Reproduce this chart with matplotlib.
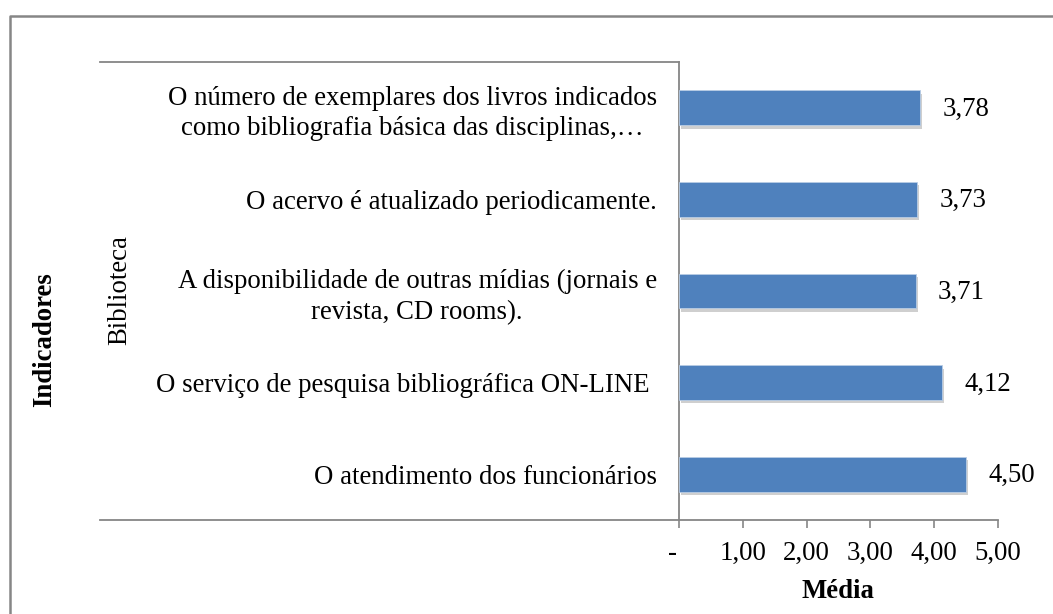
import matplotlib
matplotlib.use("Agg")
import matplotlib.pyplot as plt
from matplotlib.lines import Line2D
import matplotlib.patheffects as pe

plt.rcParams['font.family'] = ['Liberation Serif', 'DejaVu Serif']

categories = [
    "O atendimento dos funcionários",
    "O serviço de pesquisa bibliográfica ON-LINE ",
    "A disponibilidade de outras mídias (jornais e\nrevista, CD rooms).",
    "O acervo é atualizado periodicamente.",
    "O número de exemplares dos livros indicados\ncomo bibliografia básica das disciplinas,…",
]
values = [4.50, 4.12, 3.71, 3.73, 3.78]
value_labels = ["4,50", "4,12", "3,71", "3,73", "3,78"]
xticks = [0, 1, 2, 3, 4, 5]
xtick_labels = ["-  ", "1,00", "2,00", "3,00", "4,00", "5,00"]
group_label = "Biblioteca"
y_title = "Indicadores"
x_title = "Média"

W, H = 1053, 614
fig = plt.figure(figsize=(W / 100, H / 100), dpi=100)
ax = fig.add_axes([679 / W, 1 - 520 / H, (998 - 679) / W, (520 - 62) / H])

gray = "#868686"
fs = 19.3

bars = ax.barh(range(len(categories)), values, height=0.38, color="#4F81BD",
               edgecolor="#B9CDE5", linewidth=0.6, zorder=3)
for b in bars:
    b.set_path_effects([pe.SimplePatchShadow(offset=(1.5, -2.5), shadow_rgbFace="#a0a0a0", alpha=0.5),
                        pe.Normal()])

for i, (v, lab) in enumerate(zip(values, value_labels)):
    ax.annotate(lab, xy=(v, i), xytext=(16, -1), textcoords="offset points",
                ha="left", va="center", fontsize=fs, color="black")

ax.set_xlim(0, 5)
ax.set_ylim(-0.5, len(categories) - 0.5)
ax.set_xticks(xticks)
ax.set_xticklabels(xtick_labels, fontsize=fs)
ax.set_yticks(range(len(categories)))
ax.set_yticklabels(categories, fontsize=fs, multialignment="center", linespacing=1.3)
ax.tick_params(axis="y", length=0, pad=16)
ax.tick_params(axis="x", length=6, width=1.2, color=gray, pad=9, direction="out")

for s in ["top", "right"]:
    ax.spines[s].set_visible(False)
for s in ["left", "bottom"]:
    ax.spines[s].set_color(gray)
    ax.spines[s].set_linewidth(1.3)

# multi-level category boundary lines
fig.add_artist(Line2D([100 / W, 679 / W], [1 - 62 / H, 1 - 62 / H], color=gray, lw=1.3))
fig.add_artist(Line2D([100 / W, 679 / W], [1 - 520 / H, 1 - 520 / H], color=gray, lw=1.3))
# chart frame
fig.add_artist(Line2D([10 / W, 10 / W, 1.01], [-0.01, 1 - 16 / H, 1 - 16 / H], color=gray, lw=1.8))

fig.text(120 / W, 1 - 290 / H, group_label, rotation=90, ha="center", va="center", fontsize=fs)
fig.text(45 / W, 1 - 340 / H, y_title, rotation=90, ha="center", va="center", fontsize=fs,
         fontweight="bold")
fig.text(838 / W, 1 - 591 / H, x_title, ha="center", va="center", fontsize=fs, fontweight="bold")

fig.savefig("out.png", dpi=100)
